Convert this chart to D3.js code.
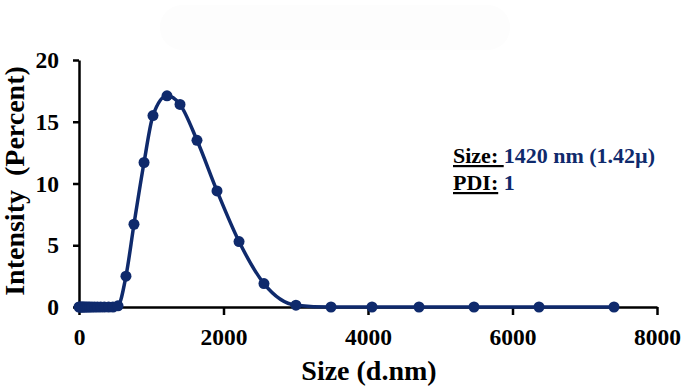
<!DOCTYPE html>
<html><head><meta charset="utf-8">
<script src="https://cdn.jsdelivr.net/npm/d3@7"></script>
<style>body{margin:0;background:#fff}svg{display:block}</style>
</head><body>
<script>
const sizes = [0, 15, 30, 45, 60, 80, 100, 125, 150, 180, 215, 255, 300, 350, 410, 470, 540,
  650, 761, 900, 1024, 1218, 1398, 1633, 1910, 2215, 2560, 3003, 3488, 4055, 4706, 5467, 6367, 7405];
const intensity = [0, 0, 0, 0, 0, 0, 0, 0, 0, 0, 0, 0, 0, 0, 0, 0, 0.1,
  2.5, 6.7, 11.7, 15.5, 17.1, 16.4, 13.5, 9.4, 5.3, 1.9, 0.15, 0, 0, 0, 0, 0, 0];
const xTicks = [0, 2000, 4000, 6000, 8000];
const yTicks = [0, 5, 10, 15, 20];
const xTitle = "Size (d.nm)";
const yTitle = "Intensity  (Percent)";

const W = 685, H = 390;
const navy = "#0f2a6c";
const svg = d3.select("body").append("svg").attr("width", W).attr("height", H);
svg.append("rect").attr("x", 160).attr("y", 5).attr("width", 350).attr("height", 45)
  .attr("rx", 22).attr("fill", "#fdfdfd");

const x = d3.scaleLinear().domain([0, 8000]).range([79, 657]);
const y = d3.scaleLinear().domain([0, 20]).range([307, 60]);
const font = "'Liberation Serif','Times New Roman',serif";

const xa = svg.append("g").attr("transform", `translate(0,${y(0)})`)
  .call(d3.axisBottom(x).tickValues(xTicks).tickSizeInner(8).tickSizeOuter(0).tickPadding(13).tickFormat(d3.format("d")));
const ya = svg.append("g").attr("transform", `translate(${x(0)},0)`)
  .call(d3.axisLeft(y).tickValues(yTicks).tickSizeInner(6).tickSizeOuter(0).tickPadding(14));
[xa, ya].forEach(a => {
  a.select(".domain").attr("stroke", "#000").attr("stroke-width", 2.5);
  a.selectAll(".tick line").attr("stroke", "#000").attr("stroke-width", 2.5);
  a.selectAll("text").attr("font-family", font).attr("font-weight", "bold")
    .attr("font-size", 23.5).attr("fill", "#000");
});

const pts = sizes.map((s, i) => [s, intensity[i]]);
svg.append("path").datum(pts)
  .attr("d", d3.line().x(d => x(d[0])).y(d => y(d[1])).curve(d3.curveMonotoneX))
  .attr("fill", "none").attr("stroke", navy).attr("stroke-width", 3.5);
svg.append("g").selectAll("circle").data(pts).join("circle")
  .attr("cx", d => x(d[0])).attr("cy", d => y(d[1])).attr("r", 5.5).attr("fill", navy);

svg.append("text").attr("x", 369).attr("y", 380).attr("text-anchor", "middle")
  .attr("font-family", font).attr("font-weight", "bold").attr("font-size", 28).text(xTitle);
svg.append("text").attr("transform", "translate(24,181) rotate(-90)").attr("text-anchor", "middle")
  .attr("font-family", font).attr("font-weight", "bold").attr("font-size", 28)
  .style("white-space", "pre").text(yTitle);

const ann = svg.append("g").attr("font-family", font).attr("font-weight", "bold").attr("font-size", 22);
const t1 = ann.append("text").attr("x", 453).attr("y", 163);
t1.append("tspan").attr("fill", "#000").attr("text-decoration", "underline").style("white-space", "pre").text("Size: ");
t1.append("tspan").attr("fill", navy).text("1420 nm (1.42µ)");
const t2 = ann.append("text").attr("x", 453).attr("y", 190);
t2.append("tspan").attr("fill", "#000").attr("text-decoration", "underline").text("PDI:");
t2.append("tspan").attr("fill", navy).style("white-space", "pre").text(" 1");
</script>
</body></html>
